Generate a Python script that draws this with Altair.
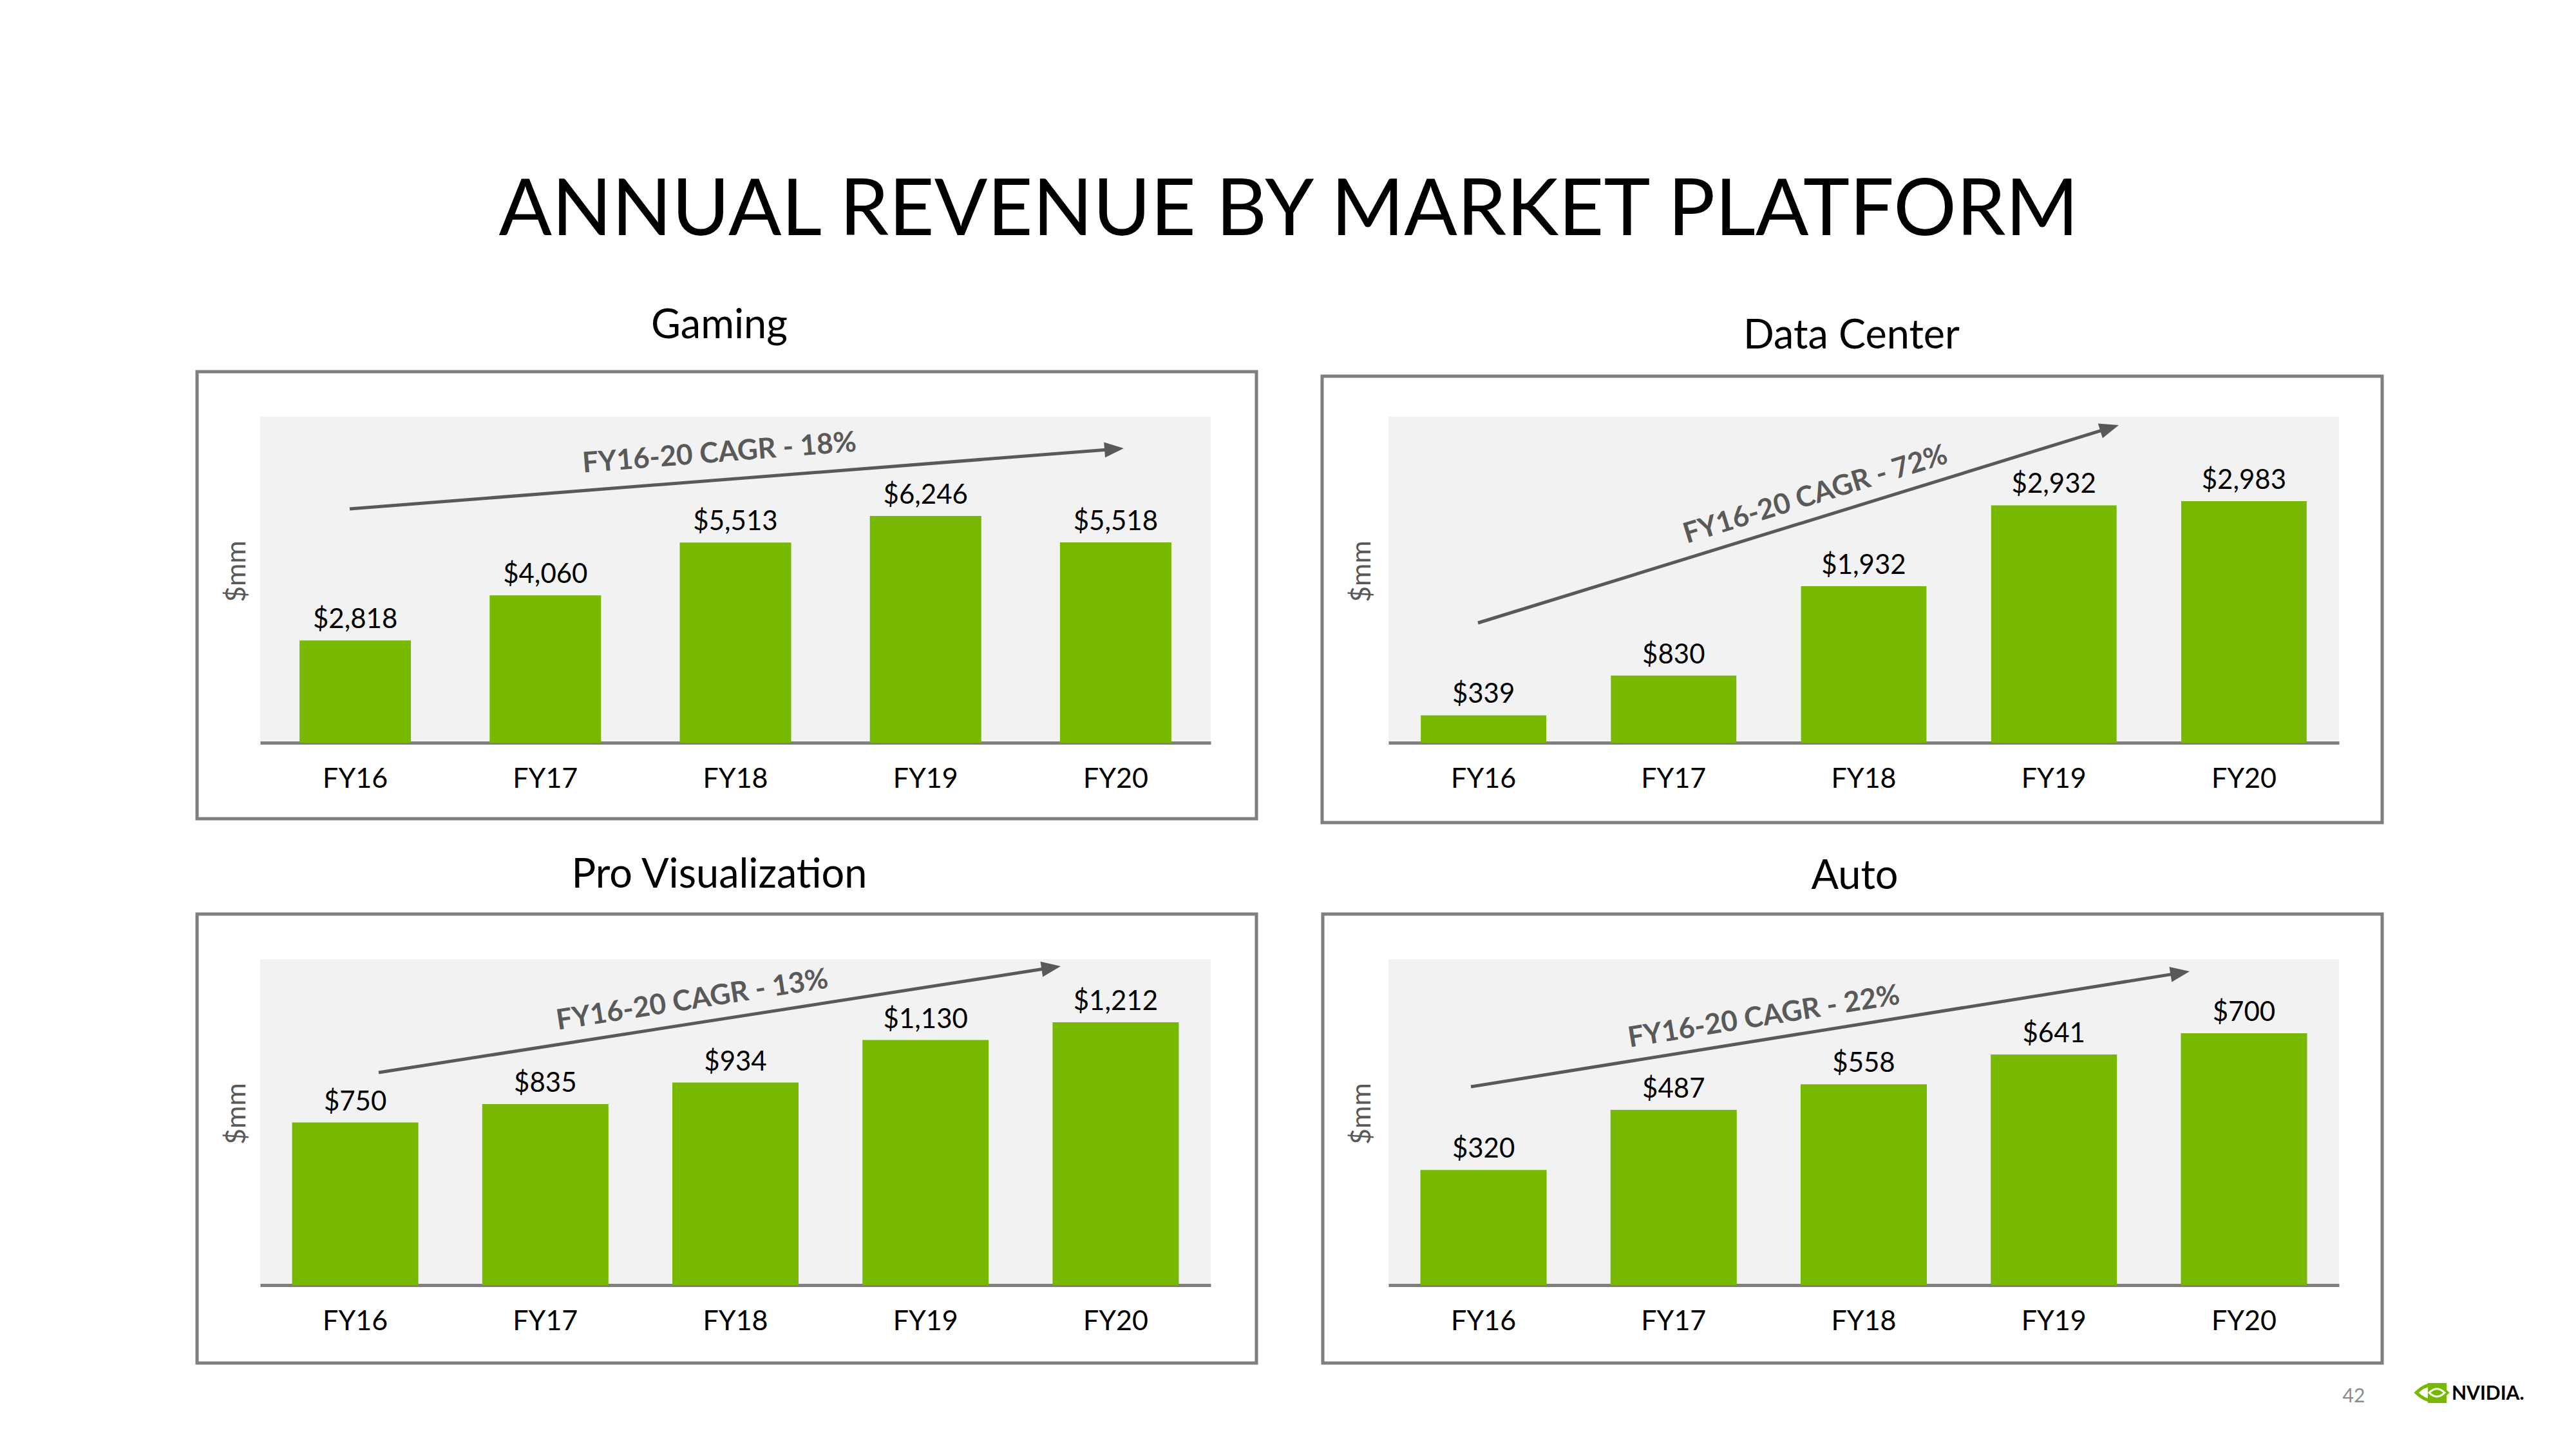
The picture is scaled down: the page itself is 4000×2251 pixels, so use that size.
import math
import altair as alt
import pandas as pd

# ---------------- data ----------------
years = ["FY16", "FY17", "FY18", "FY19", "FY20"]
gaming = [2818, 4060, 5513, 6246, 5518]
data_center = [339, 830, 1932, 2932, 2983]
pro_visualization = [750, 835, 934, 1130, 1212]
auto = [320, 487, 558, 641, 700]

panel_titles = ["Gaming", "Data Center", "Pro Visualization", "Auto"]
cagr_labels = ["FY16-20 CAGR - 18%", "FY16-20 CAGR - 72%",
               "FY16-20 CAGR - 13%", "FY16-20 CAGR - 22%"]
main_title = "ANNUAL REVENUE BY MARKET PLATFORM"
y_label = "$mm"
page_number = "42"
logo_text = "NVIDIA."

series = [gaming, data_center, pro_visualization, auto]

# ---------------- style / layout ----------------
FONT = "Lato"
GREEN = "#76b900"
AXIS_GRAY = "#7f7f7f"
BOX_GRAY = "#7f7f7f"
ARROW_GRAY = "#595959"
W, H = 1476, 506

layout = [
    dict(ymax=8980, pad=0.414, box=(-98, 1547, -70, 624), title=(713, -122),
         arrow=((139, 143), (1341, 49)), text=(714, 70), mmx=-23),
    dict(ymax=4025, pad=0.34, box=(-103, 1543, -63, 630), title=(719, -106),
         arrow=((139, 320), (1134, 13)), text=(667, 134), mmx=-28),
    dict(ymax=1503, pad=0.336, box=(-98, 1547, -70, 627), title=(713, -111),
         arrow=((184, 176), (1243, 11)), text=(673, 77), mmx=-23),
    dict(ymax=906, pad=0.336, box=(-102, 1543, -70, 627), title=(724, -109),
         arrow=((128, 198), (1244, 19)), text=(585, 103), mmx=-28),
]

ONE = pd.DataFrame({"k": [0]})


def v(n):
    return alt.value(float(n))


def panel(i):
    p = layout[i]
    df = pd.DataFrame({"Year": years, "Revenue": series[i]})
    x = alt.X("Year:N", sort=years, title=None,
              scale=alt.Scale(paddingInner=p["pad"], paddingOuter=p["pad"] / 2),
              axis=alt.Axis(labelFont=FONT, labelFontSize=43, labelColor="#000000",
                            labelAngle=0, labelPadding=69, labelBaseline="alphabetic",
                            ticks=False, tickSize=0, domainColor=AXIS_GRAY,
                            domainWidth=5, grid=False))
    y = alt.Y("Revenue:Q", axis=None,
              scale=alt.Scale(domain=[0, p["ymax"]], nice=False, zero=True))
    base = alt.Chart(df)
    bars = base.mark_bar(color=GREEN).encode(x=x, y=y)
    labels = base.mark_text(font=FONT, fontSize=42, baseline="alphabetic", dy=-19,
                            color="#000000").encode(
        x=x, y=y, text=alt.Text("Revenue:Q", format="$,.0f"))

    bx1, bx2, by1, by2 = p["box"]
    box = alt.Chart(ONE).mark_rect(fill="transparent", stroke=BOX_GRAY,
                                   strokeWidth=5).encode(
        x=v(bx1), x2=v(bx2), y=v(by1), y2=v(by2))

    tx, ty = p["title"]
    ptitle = alt.Chart(ONE).mark_text(text=panel_titles[i], font=FONT, fontSize=63,
                                      color="#000000", align="center",
                                      baseline="alphabetic").encode(x=v(tx), y=v(ty))

    mm = alt.Chart(ONE).mark_text(text=y_label, font=FONT, fontSize=43, color=ARROW_GRAY,
                                  angle=270, align="center",
                                  baseline="alphabetic").encode(x=v(p["mmx"]), y=v(240))

    (sx, sy), (ex, ey) = p["arrow"]
    ang = math.atan2(sy - ey, ex - sx)
    deg = math.degrees(ang)
    cx = ex - 15 * math.cos(ang)
    cy = ey + 15 * math.sin(ang)
    line = alt.Chart(ONE).mark_rule(color=ARROW_GRAY, strokeWidth=5).encode(
        x=v(sx), y=v(sy), x2=v(cx), y2=v(cy))
    head = alt.Chart(ONE).mark_point(shape="M-1,-0.8L1,0L-1,0.8Z", filled=True,
                                     size=900, color=ARROW_GRAY, opacity=1,
                                     angle=round((360 - deg) % 360, 2)).encode(
        x=v(cx), y=v(cy))
    ctx, cty = p["text"]
    cagr = alt.Chart(ONE).mark_text(text=cagr_labels[i], font=FONT, fontWeight="bold",
                                    fontSize=44, color=ARROW_GRAY,
                                    angle=round((360 - deg) % 360, 2), align="center",
                                    baseline="alphabetic").encode(x=v(ctx), y=v(cty))

    layers = [box, bars, labels, line, head, cagr, ptitle, mm]

    if i == 0:
        anchor = alt.Chart(ONE).mark_rect(color="white").encode(
            x=v(-396), x2=v(-395), y=v(-639), y2=v(-638))
        mtitle = alt.Chart(ONE).mark_text(text=main_title, font=FONT, fontSize=122,
                                          color="#000000", align="center",
                                          baseline="alphabetic").encode(x=v(1597), y=v(-282))
        layers = [anchor] + layers + [mtitle]

    if i == 3:
        pnum = alt.Chart(ONE).mark_text(text=page_number, font=FONT, fontSize=30,
                                        color="#8c8c8c", align="center",
                                        baseline="alphabetic").encode(x=v(1499), y=v(688))
        eye = alt.Chart(ONE).mark_point(shape="M-1,0Q0,-1 1,0Q0,1 -1,0Z", filled=False,
                                        size=2304, color=GREEN, strokeWidth=5,
                                        opacity=1).encode(x=v(1620), y=v(673))
        sq = alt.Chart(ONE).mark_rect(color=GREEN).encode(
            x=v(1614), x2=v(1643), y=v(658), y2=v(689))
        inner = alt.Chart(ONE).mark_point(shape="M-1,0Q0,-1 1,0Q0,1 -1,0Z", filled=False,
                                          size=576, color="white", strokeWidth=3,
                                          opacity=1).encode(x=v(1628), y=v(673))
        wordmark = alt.Chart(ONE).mark_text(text=logo_text, font=FONT, fontWeight="bold",
                                            fontSize=30, color="#000000", align="left",
                                            baseline="alphabetic").encode(x=v(1651), y=v(684))
        layers = layers + [pnum, eye, sq, inner, wordmark]

    return alt.layer(*layers).properties(width=W, height=H)


chart = alt.concat(
    *[panel(i) for i in range(4)],
    columns=2,
    spacing={"row": 336, "column": 276},
    bounds="flush",
).properties(padding=0).configure(
    background="white", font=FONT
).configure_view(fill="#f2f2f2", strokeWidth=0)

chart.save("out.html", embed_options={"renderer": "svg", "actions": False})
